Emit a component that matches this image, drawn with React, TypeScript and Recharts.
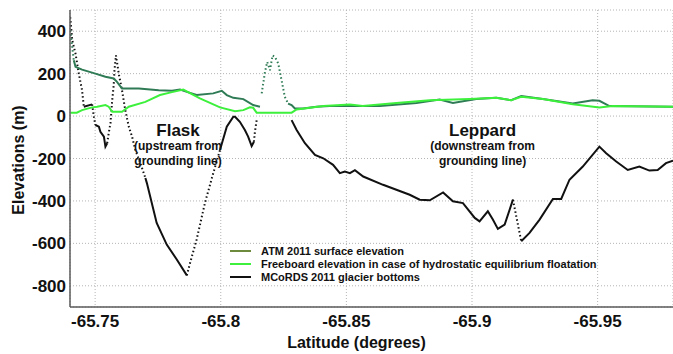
import React from 'react'
import {
  LineChart,
  Line,
  XAxis,
  YAxis,
  CartesianGrid,
  Legend,
  ReferenceDot,
} from 'recharts'

const FONT = '"Liberation Sans", Arial, Helvetica, sans-serif'

const ATM_COLOR = '#2e7b55'
const ATM_LEGEND_COLOR = '#6e8b3d'
const FREEBOARD_COLOR = '#3cf03c'
const BED_COLOR = '#111111'

const xTicks = [-65.75, -65.8, -65.85, -65.9, -65.95]
const yTicks = [-800, -600, -400, -200, 0, 200, 400]

// [latitude, elevation m] — radar bed picks; sparse stretches are drawn dotted
const bedSparseTop: [number, number][] = [
  [-65.7401, 466], [-65.7409, 357], [-65.7422, 294], [-65.7435, 200], [-65.7448, 122], [-65.7455, 44],
]
const bedShortStep: [number, number][] = [[-65.7455, 44], [-65.7488, 55]]
const bedSparseDrop: [number, number][] = [[-65.7488, 55], [-65.7495, -3], [-65.7501, -42]]
const bedFirstDip: [number, number][] = [
  [-65.7501, -42], [-65.7515, -50], [-65.7521, -74], [-65.7535, -97], [-65.7541, -144], [-65.7548, -128],
]
const bedSparseSpike: [number, number][] = [
  [-65.7548, -128], [-65.7554, -81], [-65.7561, -34], [-65.7568, 75], [-65.7574, 146], [-65.7577, 216],
  [-65.7583, 286], [-65.7594, 200], [-65.7607, 122], [-65.762, 28], [-65.7634, -50], [-65.7647, -97],
  [-65.766, -160], [-65.768, -222], [-65.77, -292],
]
const bedFlaskDescent: [number, number][] = [
  [-65.77, -292], [-65.7706, -316], [-65.7745, -504], [-65.7785, -606], [-65.7825, -676], [-65.7865, -751],
]
const bedSparseRise: [number, number][] = [
  [-65.7865, -751], [-65.7878, -692], [-65.7904, -582], [-65.7937, -410], [-65.797, -270], [-65.7997, -160],
]
const bedFlaskCrest: [number, number][] = [
  [-65.7997, -160], [-65.8024, -50], [-65.805, -3], [-65.8057, -3], [-65.8076, -27], [-65.8096, -66],
  [-65.8109, -97], [-65.8123, -141], [-65.8132, -121],
]
const bedSparseEnd: [number, number][] = [[-65.8132, -121], [-65.8136, -74], [-65.8143, -19]]
const bedLeppard: [number, number][] = [
  [-65.8282, -19], [-65.8302, -66], [-65.8335, -128], [-65.8375, -183], [-65.8408, -199], [-65.8447, -230],
  [-65.8474, -269], [-65.8494, -262], [-65.8514, -269], [-65.8534, -255], [-65.8567, -285], [-65.8646, -324],
  [-65.8752, -371], [-65.8792, -394], [-65.8832, -397], [-65.8885, -360], [-65.8924, -402], [-65.8964, -410],
  [-65.9011, -480], [-65.903, -496], [-65.9063, -449], [-65.9083, -488], [-65.9103, -532], [-65.913, -512],
  [-65.9163, -394],
]
const bedSparseGap: [number, number][] = [[-65.9163, -394], [-65.9196, -590]]
const bedLeppardEnd: [number, number][] = [
  [-65.9196, -590], [-65.9229, -551], [-65.9269, -488], [-65.9322, -391], [-65.9355, -391], [-65.9388, -300],
  [-65.9441, -238], [-65.9507, -144], [-65.9534, -175], [-65.9574, -214], [-65.962, -254], [-65.9666, -238],
  [-65.9706, -257], [-65.9739, -254], [-65.9772, -222], [-65.98, -210],
]

// ATM laser surface
const atmSparseStart: [number, number][] = [[-65.7401, 404], [-65.7415, 263]]
const atmFlask: [number, number][] = [
  [-65.7415, 263], [-65.7422, 232], [-65.7448, 219], [-65.7501, 200], [-65.7541, 185], [-65.7574, 177],
  [-65.7587, 161], [-65.7607, 130], [-65.7674, 130], [-65.7753, 122], [-65.7806, 119], [-65.7838, 125],
  [-65.7865, 114], [-65.7904, 99], [-65.797, 107], [-65.8004, 119], [-65.8024, 99], [-65.805, 86],
  [-65.809, 80], [-65.8129, 52], [-65.8156, 44],
]
const atmSparsePeak: [number, number][] = [
  [-65.8163, 107], [-65.8176, 208], [-65.8185, 255], [-65.8196, 216], [-65.8206, 286], [-65.8216, 279],
  [-65.8229, 247], [-65.8242, 169], [-65.8255, 91], [-65.8268, 59],
]
const atmLeppard: [number, number][] = [
  [-65.8268, 59], [-65.8282, 52], [-65.8295, 36], [-65.8328, 36], [-65.8381, 44], [-65.8434, 47],
  [-65.8633, 47], [-65.8779, 62], [-65.8871, 78], [-65.8924, 62], [-65.9017, 80], [-65.9097, 86],
  [-65.9156, 75], [-65.9196, 95], [-65.9282, 80], [-65.9401, 59], [-65.948, 75], [-65.9507, 72],
  [-65.9547, 47], [-65.98, 44],
]

// freeboard expected for a floating tongue
const freeboard: [number, number][] = [
  [-65.7402, 16], [-65.7427, 16], [-65.7448, 28], [-65.7488, 41], [-65.7508, 44], [-65.7541, 52],
  [-65.7554, 44], [-65.7568, 20], [-65.7607, 20], [-65.7634, 44], [-65.77, 67], [-65.7758, 99],
  [-65.7806, 113], [-65.7851, 125], [-65.7917, 83], [-65.7997, 41], [-65.8057, 23], [-65.809, 28],
  [-65.8116, 41], [-65.8129, 39], [-65.8143, 16], [-65.8282, 16], [-65.8302, 31], [-65.8408, 47],
  [-65.8514, 55], [-65.8565, 48], [-65.8699, 62], [-65.8832, 75], [-65.8991, 81], [-65.9097, 86],
  [-65.9156, 75], [-65.9196, 91], [-65.9282, 80], [-65.9401, 56], [-65.9507, 41], [-65.956, 47],
  [-65.98, 44],
]

const legendItems = [
  { label: 'ATM 2011 surface elevation', color: ATM_LEGEND_COLOR },
  { label: 'Freeboard elevation in case of hydrostatic equilibrium floatation', color: FREEBOARD_COLOR },
  { label: 'MCoRDS 2011 glacier bottoms', color: BED_COLOR },
]

const toRows = (pts: [number, number][]) => pts.map(([lat, elev]) => ({ lat, elev }))

const solidBed = [bedShortStep, bedFirstDip, bedFlaskDescent, bedFlaskCrest, bedLeppard, bedLeppardEnd]
const dottedBed = [bedSparseTop, bedSparseDrop, bedSparseSpike, bedSparseRise, bedSparseEnd, bedSparseGap]

const renderNote = (lines: string[]) => (props: any) => {
  const { viewBox } = props
  const cx = viewBox.x + (viewBox.width || 0) / 2
  const cy = viewBox.y + (viewBox.height || 0) / 2
  return (
    <text x={cx} y={cy} textAnchor="middle" fontFamily={FONT} fontWeight={700} fill="#111">
      <tspan x={cx} dy={0} fontSize={17}>{lines[0]}</tspan>
      <tspan x={cx} dy={14} fontSize={12}>{lines[1]}</tspan>
      <tspan x={cx} dy={14.5} fontSize={12}>{lines[2]}</tspan>
    </text>
  )
}

const renderLegend = () => (
  <div style={{ fontFamily: FONT, fontSize: 11, fontWeight: 700, color: '#111' }}>
    {legendItems.map((item) => (
      <div key={item.label} style={{ display: 'flex', alignItems: 'center', height: 13, whiteSpace: 'nowrap' }}>
        <span style={{ display: 'inline-block', width: 21, height: 2, background: item.color, marginRight: 10 }} />
        <span>{item.label}</span>
      </div>
    ))}
  </div>
)

export default function App() {
  return (
    <div style={{ position: 'fixed', left: 0, top: 0, width: 673, height: 354, background: '#fff' }}>
      <LineChart width={673} height={354} margin={{ top: 10, right: 0, bottom: 0, left: 0 }}>
        <CartesianGrid stroke="#b4b4b4" strokeDasharray="1 2" />
        <XAxis
          type="number"
          dataKey="lat"
          domain={[-65.98, -65.74]}
          reversed
          allowDataOverflow
          ticks={xTicks}
          tickFormatter={(v: number) => String(v)}
          height={47}
          tickLine={false}
          tickSize={0}
          tickMargin={8}
          axisLine={{ stroke: '#5a5a5a', strokeWidth: 1.5 }}
          tick={{ fill: '#111', fontSize: 17, fontWeight: 700, fontFamily: FONT }}
          label={{
            content: (p: any) => (
              <text
                x={p.viewBox.x + p.viewBox.width / 2 - 15}
                y={p.viewBox.y + 41}
                textAnchor="middle"
                fontFamily={FONT}
                fontWeight={700}
                fontSize={16}
                fill="#111"
              >
                Latitude (degrees)
              </text>
            ),
          }}
        />
        <YAxis
          type="number"
          dataKey="elev"
          domain={[-900, 500]}
          allowDataOverflow
          ticks={yTicks}
          width={70}
          tickLine={false}
          tickSize={0}
          tickMargin={4}
          axisLine={{ stroke: '#5a5a5a', strokeWidth: 1.5 }}
          tick={{ fill: '#111', fontSize: 17, fontWeight: 700, fontFamily: FONT }}
          label={{
            content: () => {
              const cx = 18
              const cy = 160
              return (
                <text
                  x={cx}
                  y={cy}
                  transform={`rotate(-90 ${cx} ${cy})`}
                  textAnchor="middle"
                  dominantBaseline="central"
                  fontFamily={FONT}
                  fontWeight={700}
                  fontSize={16}
                  fill="#111"
                >
                  Elevations (m)
                </text>
              )
            },
          }}
        />

        {dottedBed.map((seg, i) => (
          <Line
            key={`bed-dot-${i}`}
            data={toRows(seg)}
            dataKey="elev"
            type="linear"
            stroke={BED_COLOR}
            strokeWidth={2}
            strokeDasharray="1.5 2.5"
            dot={false}
            isAnimationActive={false}
          />
        ))}
        {solidBed.map((seg, i) => (
          <Line
            key={`bed-${i}`}
            data={toRows(seg)}
            dataKey="elev"
            type="linear"
            stroke={BED_COLOR}
            strokeWidth={2}
            dot={false}
            isAnimationActive={false}
          />
        ))}

        {[atmSparseStart, atmSparsePeak].map((seg, i) => (
          <Line
            key={`atm-dot-${i}`}
            data={toRows(seg)}
            dataKey="elev"
            type="linear"
            stroke={ATM_COLOR}
            strokeWidth={2}
            strokeDasharray="1.5 2.5"
            dot={false}
            isAnimationActive={false}
          />
        ))}
        {[atmFlask, atmLeppard].map((seg, i) => (
          <Line
            key={`atm-${i}`}
            data={toRows(seg)}
            dataKey="elev"
            type="linear"
            stroke={ATM_COLOR}
            strokeWidth={2}
            dot={false}
            isAnimationActive={false}
          />
        ))}

        <Line
          data={toRows(freeboard)}
          dataKey="elev"
          type="linear"
          stroke={FREEBOARD_COLOR}
          strokeWidth={2}
          dot={false}
          isAnimationActive={false}
        />

        <ReferenceDot
          x={-65.783}
          y={-94}
          r={0}
          fill="none"
          stroke="none"
          label={{ content: renderNote(['Flask', '(upstream from', 'grounding line)']) }}
        />
        <ReferenceDot
          x={-65.9042}
          y={-94}
          r={0}
          fill="none"
          stroke="none"
          label={{ content: renderNote(['Leppard', '(downstream from', 'grounding line)']) }}
        />

        <Legend
          layout="horizontal"
          verticalAlign="middle"
          content={renderLegend}
          wrapperStyle={{ left: 230, top: 244.5, width: 'auto', height: 'auto' }}
        />
      </LineChart>
    </div>
  )
}
